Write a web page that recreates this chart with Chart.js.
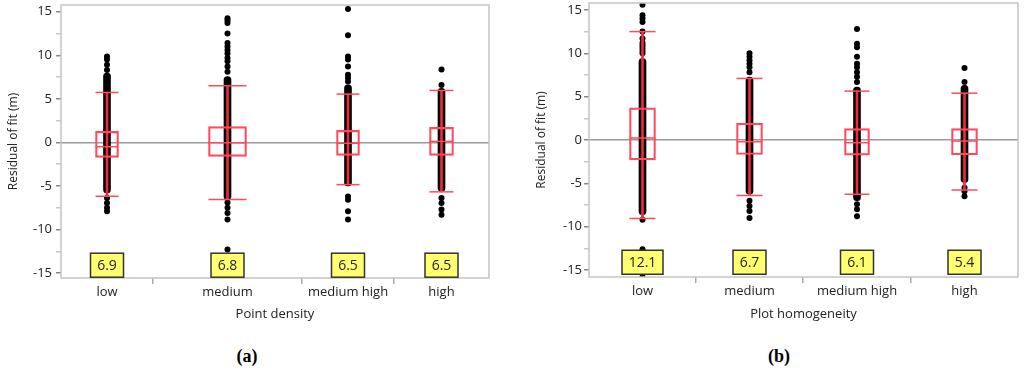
<!DOCTYPE html>
<html>
<head>
<meta charset="utf-8">
<script src="https://cdn.jsdelivr.net/npm/chart.js@4.4.1/dist/chart.umd.min.js"></script>
<style>
  body { margin: 0; background: #fff; width: 1024px; height: 373px; overflow: hidden; position: relative; }
  canvas { position: absolute; top: 0; }
  #chartA { left: 0; }
  #chartB { left: 520px; }
  .tag { position: absolute; top: 346px; font: bold 18px 'Liberation Serif', serif; color: #000; transform: translateX(-50%); }
</style>
</head>
<body>
<canvas id="chartA" width="500" height="330"></canvas>
<canvas id="chartB" width="504" height="330"></canvas>
<div class="tag" style="left:247px">(a)</div>
<div class="tag" style="left:779px">(b)</div>
<script>
const categories = ['low', 'medium', 'medium high', 'high'];
const yTickValues = [-15, -12.5, -10, -7.5, -5, -2.5, 0, 2.5, 5, 7.5, 10, 12.5, 15];

// (a) point density
const densityWidth = [92, 149, 92, 95];
const densityQ1 = [-1.72, -1.6, -1.49, -1.49];
const densityQ3 = [1.26, 1.8, 1.37, 1.72];
const densityMedian = [-0.5, -0.05, -0.1, 0.11];
const densityWhiskerLo = [-6.19, -6.56, -4.85, -5.68];
const densityWhiskerHi = [5.73, 6.5, 5.54, 5.96];
const densityDenseLo = [-5.8, -6.56, -5.0, -5.6];
const densityDenseHi = [7.95, 7.56, 6.6, 6.2];
const densityOutliers = [
  [9.85, 9.5, 8.9, 8.3, -6.4, -6.95, -7.5, -7.9],
  [14.25, 14.0, 13.7, 12.5, 11.4, 11.0, 10.6, 10.2, 9.7, 9.3, 8.7, 8.1, -6.9, -7.5, -8.1, -8.85, -12.3],
  [15.3, 12.3, 9.85, 9.5, 8.7, 7.75, 7.4, 7.0, -6.2, -6.6, -7.9, -8.85, -15.4],
  [8.36, 6.6, -6.4, -6.95, -7.7, -8.3]
];
const densityLabels = ['6.9', '6.8', '6.5', '6.5'];

// (b) plot homogeneity
const homogWidth = [107, 107, 108, 107];
const homogQ1 = [-2.3, -1.67, -1.74, -1.7];
const homogQ3 = [3.7, 1.93, 1.31, 1.31];
const homogMedian = [0.23, -0.2, -0.31, -0.12];
const homogWhiskerLo = [-9.05, -6.4, -6.26, -5.77];
const homogWhiskerHi = [12.5, 7.1, 5.64, 5.4];
const homogDenseLo = [-8.6, -6.26, -7.0, -4.9];
const homogDenseHi = [9.4, 7.26, 6.1, 6.3];
const homogOutliers = [
  [15.6, 14.4, 14.0, 13.6, 12.5, 11.7, 11.2, 10.9, 10.6, 10.3, 10.0, -9.2, -12.6, -15.8],
  [10.0, 9.6, 9.2, 8.8, 8.4, 7.8, -7.0, -7.6, -8.2, -9.0],
  [12.8, 11.1, 10.7, 9.6, 8.8, 8.4, 7.8, 7.3, 6.7, -7.4, -8.0, -8.8],
  [8.3, 6.7, -5.5, -5.9, -6.5]
];
const homogLabels = ['12.1', '6.7', '6.1', '5.4'];

const labelLevel = -14.1;
const red = '#ff4a5e';
const txt = '#222';
Chart.defaults.font.family = "'Open Sans', sans-serif";

let makeChart = (id, s) => {
  // category edges and centres from group widths
  const bounds = [0];
  s.width.forEach(w => bounds.push(bounds[bounds.length - 1] + w));
  const centers = s.width.map((w, i) => bounds[i] + w / 2);
  const inner = bounds.slice(1, -1);

  const datasets = [];
  datasets.push({
    type: 'bar', order: 6, grouped: false,
    data: centers.map((x, i) => ({ x: x, y: [s.denseLo[i], s.denseHi[i]] })),
    backgroundColor: '#000', barThickness: 7, borderRadius: 3.5, borderSkipped: false
  });
  const dots = [];
  s.outliers.forEach((list, i) => list.forEach(v => dots.push({ x: centers[i], y: v })));
  datasets.push({
    type: 'scatter', order: 5, data: dots,
    pointRadius: 3, pointBackgroundColor: '#000', pointBorderWidth: 0
  });
  datasets.push({
    type: 'bar', order: 4, grouped: false,
    data: centers.map((x, i) => ({ x: x, y: [s.wLo[i], s.wHi[i]] })),
    backgroundColor: '#f0283c', barThickness: 2
  });
  const caps = [];
  centers.forEach((x, i) => { caps.push({ x: x, y: s.wLo[i], k: i }); caps.push({ x: x, y: s.wHi[i], k: i }); });
  datasets.push({
    type: 'scatter', order: 3, data: caps,
    pointStyle: 'line', pointRadius: c => s.boxPx[c.raw.k] / 2, pointBorderColor: red, pointBorderWidth: 1.5
  });
  centers.forEach((x, i) => {
    datasets.push({
      type: 'bar', order: 2, grouped: false,
      data: [{ x: x, y: [s.q1[i], s.q3[i]] }],
      backgroundColor: 'rgba(0,0,0,0)', borderColor: red, borderWidth: 1.5,
      borderSkipped: false, barThickness: s.boxPx[i]
    });
  });
  datasets.push({
    type: 'scatter', order: 1,
    data: centers.map((x, i) => ({ x: x, y: s.median[i], k: i })),
    pointStyle: 'line', pointRadius: c => s.boxPx[c.raw.k] / 2, pointBorderColor: red, pointBorderWidth: 1.5
  });

  // plot frame + yellow value boxes
  const overlay = {
    id: 'overlay',
    afterDatasetsDraw(chart) {
      const { ctx, chartArea: a, scales: { x, y } } = chart;
      ctx.save();
      ctx.strokeStyle = '#c4c4c4';
      ctx.lineWidth = 1.5;
      ctx.strokeRect(a.left, a.top, a.right - a.left, a.bottom - a.top);
      ctx.font = "14px 'Open Sans'";
      ctx.textAlign = 'center';
      ctx.textBaseline = 'middle';
      s.labels.forEach((t, i) => {
        const cx = x.getPixelForValue(centers[i]);
        const cy = y.getPixelForValue(labelLevel);
        const w = Math.round(ctx.measureText(t).width + 13), h = 24;
        ctx.fillStyle = '#ffff70';
        ctx.fillRect(cx - w / 2, cy - h / 2, w, h);
        ctx.strokeStyle = '#333';
        ctx.lineWidth = 1.5;
        ctx.strokeRect(cx - w / 2, cy - h / 2, w, h);
        ctx.fillStyle = txt;
        ctx.fillText(t, cx, cy + 1);
      });
      ctx.restore();
    }
  };

  return new Chart(document.getElementById(id), {
    type: 'scatter',
    data: { datasets: datasets },
    plugins: [overlay],
    options: {
      responsive: false, animation: false, events: [],
      layout: { autoPadding: false, padding: { top: s.padTop, right: s.padRight, bottom: 0, left: 0 } },
      plugins: { legend: { display: false }, tooltip: { enabled: false } },
      scales: {
        x: {
          type: 'linear', min: 0, max: bounds[bounds.length - 1], offset: false,
          afterBuildTicks: ax => { ax.ticks = inner.concat(centers).sort((a, b) => a - b).map(v => ({ value: v })); },
          afterFit: ax => { ax.height = s.xHeight; ax.paddingLeft = 0; ax.paddingRight = 0; },
          border: { display: false },
          grid: {
            display: true, drawOnChartArea: false, offset: false, tickLength: 6, lineWidth: 1.5,
            tickColor: c => (c.tick && inner.includes(c.tick.value)) ? '#aaa' : 'rgba(0,0,0,0)'
          },
          ticks: {
            autoSkip: false, maxRotation: 0, padding: 0, color: txt, font: { size: 13 },
            callback: v => { const i = centers.indexOf(v); return i < 0 ? '' : categories[i]; }
          },
          title: { display: true, text: s.title, color: txt, font: { size: 13 }, padding: { top: 0, bottom: 8 } }
        },
        y: {
          type: 'linear', min: s.yMin, max: s.yMax,
          afterBuildTicks: ax => { ax.ticks = yTickValues.map(v => ({ value: v })); },
          afterFit: ax => { ax.width = s.yWidth; ax.paddingTop = 0; ax.paddingBottom = 0; },
          border: { display: false },
          grid: {
            color: c => (c.tick && c.tick.value === 0) ? '#999' : 'rgba(0,0,0,0)',
            lineWidth: 1.5, tickLength: 5,
            tickColor: c => (c.tick && c.tick.value % 5 === 0) ? '#888' : '#c8c8c8'
          },
          ticks: {
            padding: s.yPad, color: txt, font: { size: 13 },
            callback: v => v % 5 === 0 ? String(v) : ''
          },
          title: { display: true, text: 'Residual of fit (m)', color: txt, font: { size: 12 }, padding: { top: s.yTitlePad, bottom: 0 } }
        }
      }
    }
  });
};

makeChart('chartA', {
  width: densityWidth, q1: densityQ1, q3: densityQ3, median: densityMedian,
  wLo: densityWhiskerLo, wHi: densityWhiskerHi, denseLo: densityDenseLo, denseHi: densityDenseHi,
  outliers: densityOutliers, labels: densityLabels, title: 'Point density',
  boxPx: [23, 38, 23, 24],
  yMin: -15.57, yMax: 15.77, padTop: 5, padRight: 11, xHeight: 52, yWidth: 61, yPad: 4, yTitlePad: 6
});

makeChart('chartB', {
  width: homogWidth, q1: homogQ1, q3: homogQ3, median: homogMedian,
  wLo: homogWhiskerLo, wHi: homogWhiskerHi, denseLo: homogDenseLo, denseHi: homogDenseHi,
  outliers: homogOutliers, labels: homogLabels, title: 'Plot homogeneity',
  boxPx: [26, 26, 25, 26],
  yMin: -15.8, yMax: 15.8, padTop: 3, padRight: 6, xHeight: 53, yWidth: 69, yPad: 2, yTitlePad: 14
});
</script>
</body>
</html>
